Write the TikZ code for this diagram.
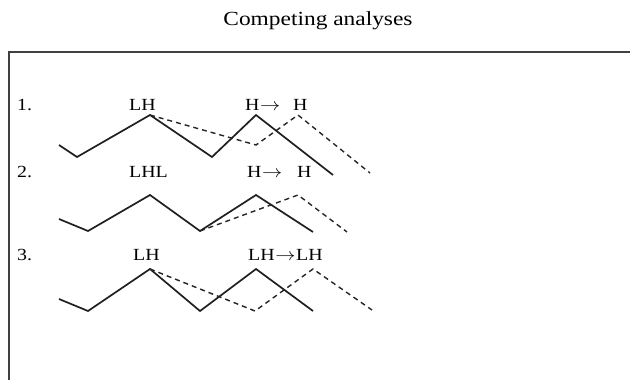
\documentclass[tikz,border=0pt]{standalone}
\usepackage{fontspec}
\setmainfont{Liberation Serif}
\usepackage{graphicx}
\newcommand{\wide}[1]{\scalebox{1.17}[1]{#1}}
\newcommand{\rarr}{\kern0.5pt$\rightarrow$\kern0.5pt}
\tikzset{
  lbl/.style={inner sep=0pt, anchor=base west, font=\fontsize{17}{20}\selectfont},
  ttl/.style={inner sep=0pt, anchor=base, font=\fontsize{20}{24}\selectfont},
  solidline/.style={line width=1.7pt, draw=black!88, line join=miter},
  dashline/.style={line width=1.4pt, draw=black!85, dash pattern=on 5pt off 4pt},
  frame/.style={line width=1.7pt, draw=black!75}
}
\begin{document}
\begin{tikzpicture}[x=1pt,y=-1pt]
\useasboundingbox (0,0) rectangle (630,380);
\node[ttl] (title) at (318,25) {\wide{Competing analyses}};
\draw[frame] (9,382) -- (9,52) -- (632,52);
% row 1
\node[lbl] (n1) at (17,110) {\wide{1.}};
\node[lbl] (a1) at (129,110) {\wide{LH}};
\node[lbl] (b1) at (245,110) {\wide{H\rarr}};
\node[lbl] (c1) at (293,110) {\wide{H}};
\coordinate (s1a) at (59,145); \coordinate (s1b) at (77,157);
\coordinate (s1c) at (150,115); \coordinate (s1d) at (212,157);
\coordinate (s1e) at (256,115); \coordinate (s1f) at (333,175);
\coordinate (d1b) at (256,145); \coordinate (d1c) at (298,115);
\coordinate (d1d) at (370,173);
\draw[solidline] (s1a) -- (s1b) -- (s1c) -- (s1d) -- (s1e) -- (s1f);
\draw[dashline] (s1c) -- (d1b) -- (d1c) -- (d1d);
% row 2
\node[lbl] (n2) at (17,177) {\wide{2.}};
\node[lbl] (a2) at (129,177) {\wide{LHL}};
\node[lbl] (b2) at (247,177) {\wide{H\rarr}};
\node[lbl] (c2) at (297,177) {\wide{H}};
\coordinate (s2a) at (59,219); \coordinate (s2b) at (88,231);
\coordinate (s2c) at (150,195); \coordinate (s2d) at (200,231);
\coordinate (s2e) at (256,195); \coordinate (s2f) at (313,232);
\coordinate (d2c) at (298,195); \coordinate (d2d) at (347,232);
\draw[solidline] (s2a) -- (s2b) -- (s2c) -- (s2d) -- (s2e) -- (s2f);
\draw[dashline] (s2d) -- (d2c) -- (d2d);
% row 3
\node[lbl] (n3) at (17,260) {\wide{3.}};
\node[lbl] (a3) at (133,260) {\wide{LH}};
\node[lbl] (b3) at (248,260) {\wide{LH\rarr LH}};
\coordinate (s3a) at (59,299); \coordinate (s3b) at (88,311);
\coordinate (s3c) at (150,269); \coordinate (s3d) at (200,311);
\coordinate (s3e) at (256,269); \coordinate (s3f) at (313,311);
\coordinate (d3b) at (255,311); \coordinate (d3c) at (313,269);
\coordinate (d3d) at (372,310);
\draw[solidline] (s3a) -- (s3b) -- (s3c) -- (s3d) -- (s3e) -- (s3f);
\draw[dashline] (s3c) -- (d3b) -- (d3c) -- (d3d);
\end{tikzpicture}
\end{document}
